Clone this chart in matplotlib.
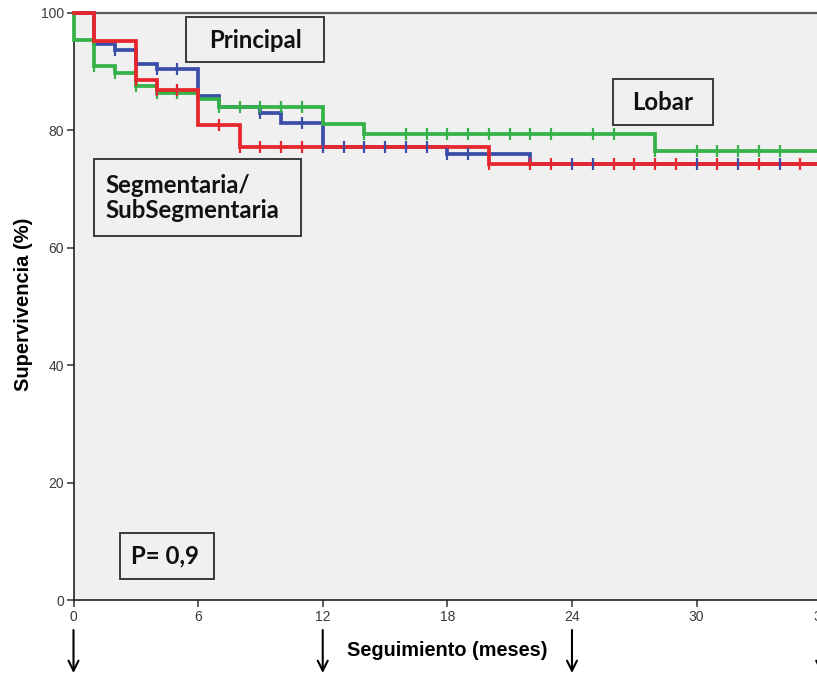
import numpy as np
import matplotlib
matplotlib.use("Agg")
import matplotlib.pyplot as plt
from matplotlib.patches import Rectangle
from matplotlib.transforms import blended_transform_factory

# Kaplan-Meier survival by level of obstruction (months, % survival)
lobar_t = [0, 0, 1, 2, 3, 4, 6, 7, 12, 14, 28]
lobar_s = [100, 95.3, 90.9, 89.8, 87.6, 86.3, 85.3, 83.9, 81.0, 79.3, 76.4]
lobar_cens = [1, 2, 3, 4, 5, 7, 8, 9, 10, 11, 14, 16, 17, 18, 19, 20, 21, 22,
              23, 25, 26, 28, 30, 31, 32, 33, 34]

principal_t = [0, 1, 2, 3, 4, 6, 7, 9, 10, 12, 18, 22]
principal_s = [100, 94.6, 93.7, 91.3, 90.4, 85.9, 83.9, 83.0, 81.2, 77.1, 75.9, 74.3]
principal_cens = [2, 4, 5, 9, 11, 12, 13, 14, 15, 16, 17, 18, 19, 24, 25, 30, 32, 34]

segment_t = [0, 1, 3, 4, 6, 8, 20]
segment_s = [100, 95.2, 88.6, 86.8, 80.9, 77.1, 74.3]
segment_cens = [3, 4, 5, 7, 8, 9, 10, 11, 20, 22, 23, 26, 27, 28, 29, 31, 33, 35]

end_time = 36
x_ticks = [0, 6, 12, 18, 24, 30, 36]
y_ticks = [0, 20, 40, 60, 80, 100]
arrow_times = [0, 12, 24, 36]

BLUE = "#3a4ea8"
GREEN = "#35b24a"
RED = "#e8262d"
BG = "#f0f0f0"

W, H = 817, 674
fig = plt.figure(figsize=(W / 100, H / 100), dpi=100)
fig.patch.set_facecolor("white")


def fx(px):
    return px / W


def fy(py):
    return 1 - py / H


ax = fig.add_axes([fx(73.5), fy(600), 747.7 / W, 587.3 / H])
ax.set_facecolor(BG)
ax.set_xlim(0, end_time)
ax.set_ylim(0, 100)


def step_value(times, surv, t):
    idx = np.searchsorted(np.asarray(times), t, side="right") - 1
    return np.asarray(surv)[idx]


groups = [
    (principal_t, principal_s, principal_cens, BLUE),
    (lobar_t, lobar_s, lobar_cens, GREEN),
    (segment_t, segment_s, segment_cens, RED),
]

for times, surv, cens, col in groups:
    tt = list(times) + [end_time]
    ss = list(surv) + [surv[-1]]
    ax.step(tt, ss, where="post", color=col, lw=2.7, clip_on=False,
            solid_joinstyle="miter", zorder=3)

for times, surv, cens, col in groups:
    cy = step_value(times, surv, np.asarray(cens, dtype=float))
    ax.plot(cens, cy, ls="none", marker="|", ms=8, mew=1.6, color=col,
            zorder=4, clip_on=False)

ax.spines["right"].set_visible(False)
ax.spines["top"].set_color("#5a5a5a")
ax.spines["top"].set_linewidth(1.6)
ax.spines["left"].set_color("#222222")
ax.spines["bottom"].set_color("#222222")
ax.spines["left"].set_linewidth(1.2)
ax.spines["bottom"].set_linewidth(1.2)

ax.set_xticks(x_ticks)
ax.set_yticks(y_ticks)
ax.set_xticklabels([str(v) for v in x_ticks])
ax.set_yticklabels([str(v) for v in y_ticks])
ax.tick_params(length=5, width=1.1, color="#333333", labelsize=10,
               labelcolor="#3a3a3a", pad=2)
for lab in ax.get_xticklabels() + ax.get_yticklabels():
    lab.set_family("Liberation Sans")

fig.text(fx(24), fy(304), "Supervivencia (%)", rotation=90, ha="center",
         va="center", fontsize=14.5, fontweight="bold", family="Liberation Sans")
fig.text(fx(447), fy(651), "Seguimiento (meses)", ha="center", va="center",
         fontsize=14.3, fontweight="bold", family="Liberation Sans")

# follow-up checkpoints
trans = blended_transform_factory(ax.transData, fig.transFigure)
for t in arrow_times:
    ax.annotate("", xy=(t, fy(673)), xytext=(t, fy(630)), xycoords=trans,
                textcoords=trans, annotation_clip=False,
                arrowprops=dict(arrowstyle="->", lw=1.5, color="black",
                                mutation_scale=18, shrinkA=0, shrinkB=0))


def label_box(x0, y0, x1, y1):
    rect = Rectangle((fx(x0), fy(y1)), (x1 - x0) / W, (y1 - y0) / H,
                     transform=fig.transFigure, facecolor=BG,
                     edgecolor="#3a3a3a", lw=1.4, zorder=5)
    fig.add_artist(rect)


box_font = dict(family="Lato", fontweight="bold", fontsize=17.3, color="#111111",
                zorder=6)

label_box(186, 17, 324, 62)
fig.text(fx(255), fy(40), "Principal", ha="center", va="center", **box_font)

label_box(94, 159, 301, 236)
fig.text(fx(105), fy(198), "Segmentaria/\nSubSegmentaria", ha="left",
         va="center", linespacing=1.15, **box_font)

label_box(613, 79, 713, 125)
fig.text(fx(663), fy(102), "Lobar", ha="center", va="center", **box_font)

label_box(120, 533, 213.5, 579)
fig.text(fx(165), fy(556), "P= 0,9", ha="center", va="center", **box_font)

fig.savefig("out.png", dpi=100, facecolor="white")
